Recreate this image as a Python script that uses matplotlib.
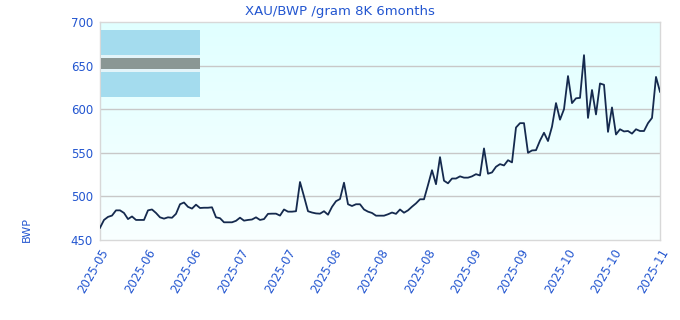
"""XAU/BWP per gram (8K) over six months: line on a gradient panel."""

import matplotlib

matplotlib.use("Agg")

import matplotlib.pyplot as plt  # noqa: E402
import numpy as np  # noqa: E402
from matplotlib.patches import Rectangle  # noqa: E402

TITLE = "XAU/BWP /gram 8K 6months"
Y_LABEL = "BWP"
TICK_LABELS = ["2025-05", "2025-06", "2025-06", "2025-07", "2025-07", "2025-08", "2025-08",
               "2025-08", "2025-09", "2025-09", "2025-10", "2025-10", "2025-11"]
Y_TICKS = [450, 500, 550, 600, 650, 700]

# price, one sample per step
prices = [
    464, 473, 476.5, 478, 484, 484, 481, 474, 477, 473,
    473, 473, 484, 485, 481, 476, 474.5, 476, 475.5, 480,
    491, 493, 488, 486, 490.5, 486.7, 487, 487, 487.5, 476,
    475, 470.3, 470.3, 470.3, 472, 475.6, 472.2, 473, 473.5, 476,
    473, 474, 480, 480.2, 480.2, 478, 485, 482.5, 482.5, 483,
    516.5, 500, 483, 481.5, 480.5, 480.2, 483, 479, 488, 494.5,
    497, 515.7, 491, 489, 491, 491, 485, 482.5, 481, 477.9,
    477.9, 477.9, 479.5, 481.5, 480, 485, 481.3, 484, 488.2, 492,
    496.7, 496.7, 513, 530, 514, 545, 518, 515, 520.5, 520.5,
    523, 521.5, 521.5, 523, 525.5, 524, 555, 526, 527.5, 534,
    537, 535.5, 541.5, 539, 579, 584, 584, 550, 552.7, 553,
    564, 573, 563.5, 580, 607, 588, 600, 638, 607, 612.5,
    613, 662, 590, 622, 594, 629.5, 628, 574, 602, 571,
    577, 574.5, 575, 572, 577, 575, 575, 584, 590, 637,
    620,
]

TEXT_BLUE = "#2356d0"

fig = plt.figure(figsize=(6.8, 3.2), dpi=100)
ax = fig.add_axes([100 / 680, 80 / 320, 560 / 680, 218 / 320])

x = np.arange(len(prices))
ax.set_xlim(0, len(prices) - 1)
ax.set_ylim(450, 700)

# vertical gradient background, cyan at top fading to white
grad = np.linspace(0, 1, 256).reshape(-1, 1)
top = np.array([0.88, 1.0, 1.0])
bottom = np.array([0.975, 1.0, 1.0])
img = bottom + (top - bottom) * grad[..., None]
ax.imshow(img[::-1], extent=[0, 1, 0, 1], transform=ax.transAxes, aspect="auto", zorder=0, origin="upper")

for yv in Y_TICKS[1:-1]:
    ax.axhline(yv, color="#c8c8c8", lw=1.0, zorder=1)

ax.plot(x, prices, color="#152a4e", lw=1.3, zorder=3)

# legend-like block in the top-left corner
ax.add_patch(Rectangle((0.002, 0.657), 0.177, 0.306, transform=ax.transAxes, facecolor="#a4dcee", edgecolor="none", zorder=4))
ax.add_patch(Rectangle((0.002, 0.772), 0.177, 0.076, transform=ax.transAxes, facecolor="white", edgecolor="none", alpha=0.7, zorder=5))
ax.add_patch(Rectangle((0.002, 0.784), 0.177, 0.052, transform=ax.transAxes, facecolor="#8a9794", edgecolor="none", zorder=6))

ticks = np.linspace(0, len(prices) - 1, len(TICK_LABELS))
ax.set_xticks(ticks)
ax.set_xticklabels(TICK_LABELS, rotation=60, ha="right", rotation_mode="anchor", color=TEXT_BLUE, fontsize=8.5)
ax.set_yticks(Y_TICKS)
ax.set_yticklabels([str(v) for v in Y_TICKS], color=TEXT_BLUE, fontsize=8.5)
ax.tick_params(length=0, pad=5)

for side in ("left", "bottom", "right", "top"):
    ax.spines[side].set_color("#d8d8d8")
    ax.spines[side].set_linewidth(1.0)

fig.text(340 / 680, 1 - 11 / 320, TITLE, color=TEXT_BLUE, fontsize=9.5, ha="center", va="center")
fig.text(27 / 680, 1 - 230 / 320, Y_LABEL, color=TEXT_BLUE, fontsize=8, rotation=90, ha="center", va="center")

fig.savefig("out.png", dpi=100)
plt.close(fig)
